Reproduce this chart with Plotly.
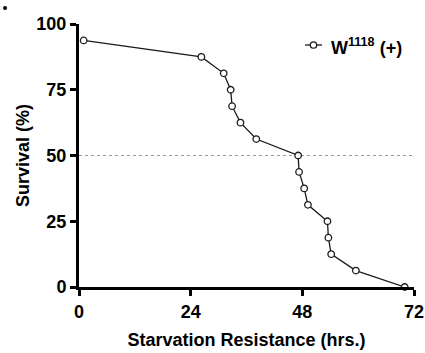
import plotly.graph_objects as go

# Starvation survival curve, w1118 (+)
hours = [1, 26.3, 31.1, 32.6, 32.9, 34.7, 38.1, 47.1, 47.3, 48.4, 49.2, 53.4, 53.6, 54.2, 59.5, 70]
survival = [93.75, 87.5, 81.25, 75, 68.75, 62.5, 56.25, 50, 43.75, 37.5, 31.25, 25, 18.75, 12.5, 6.25, 0]
x_ticks = [0, 24, 48, 72]
y_ticks = [0, 25, 50, 75, 100]
series_name = "W<sup>1118</sup> (+)"

W, H = 425, 353
L, R, T, B = 79, 11, 24, 66
PW, PH = W - L - R, H - T - B

FONT = "Liberation Sans, Arial, sans-serif"
FS = 18


def px(x):
    return (x - L) / PW


def py(y):
    return 1 - (y - T) / PH


fig = go.Figure()
fig.add_trace(go.Scatter(
    x=hours, y=survival, mode="lines+markers",
    line=dict(color="#1a1a1a", width=1.3),
    marker=dict(symbol="circle", size=6.5, color="white",
                line=dict(color="#1a1a1a", width=1.3)),
    cliponaxis=False, showlegend=False,
))

# median reference line
fig.add_shape(type="line", xref="x", yref="y", x0=0, x1=71.6, y0=50, y1=50,
              line=dict(color="#9a9a9a", width=1, dash="dot"), layer="below")

# legend glyph and label
fig.add_shape(type="line", xref="paper", yref="paper",
              x0=px(305), x1=px(322), y0=py(45), y1=py(45),
              line=dict(color="#1a1a1a", width=1.3))
r = 3.2
fig.add_shape(type="circle", xref="paper", yref="paper",
              x0=px(313.5 - r), x1=px(313.5 + r), y0=py(45 + r), y1=py(45 - r),
              line=dict(color="#1a1a1a", width=1.3), fillcolor="white")
fig.add_annotation(xref="paper", yref="paper", x=px(329), y=py(46),
                   xanchor="left", yanchor="middle", showarrow=False,
                   text=series_name,
                   font=dict(family=FONT, size=FS, color="black", weight="bold"))

# small panel mark at top-left
fig.add_shape(type="circle", xref="paper", yref="paper",
              x0=px(3), x1=px(7), y0=py(10), y1=py(6),
              line=dict(width=0), fillcolor="black")

axis_common = dict(
    showgrid=False, zeroline=False, showline=True, linecolor="black", linewidth=3,
    ticks="outside", ticklen=6, tickwidth=3, tickcolor="black",
    tickfont=dict(family=FONT, size=FS, color="black", weight="bold"),
    automargin=False,
)

fig.update_layout(
    width=W, height=H, margin=dict(l=L, r=R, t=T, b=B),
    paper_bgcolor="white", plot_bgcolor="white",
    xaxis=dict(range=[0, 72], tickvals=x_ticks, **axis_common,
               title=dict(text="Starvation Resistance (hrs.)", standoff=13,
                          font=dict(family=FONT, size=FS, color="black", weight="bold"))),
    yaxis=dict(range=[0, 100], tickvals=y_ticks, **axis_common,
               title=dict(text="Survival (%)", standoff=3,
                          font=dict(family=FONT, size=FS, color="black", weight="bold"))),
)

fig.write_html("out.html")
